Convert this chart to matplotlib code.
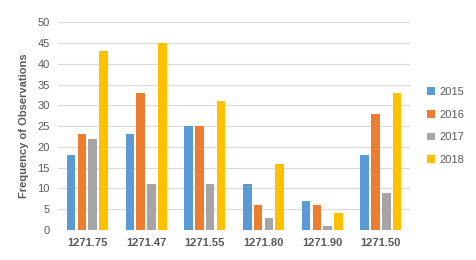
import numpy as np
import matplotlib.pyplot as plt

# data
categories = ["1271.75", "1271.47", "1271.55", "1271.80", "1271.90", "1271.50"]
years = ["2015", "2016", "2017", "2018"]
v2015 = [18, 23, 25, 11, 7, 18]
v2016 = [23, 33, 25, 6, 6, 28]
v2017 = [22, 11, 11, 3, 1, 9]
v2018 = [43, 45, 31, 16, 4, 33]
series = [v2015, v2016, v2017, v2018]
colors = ["#5B9BD5", "#ED7D31", "#A5A5A5", "#FFC000"]

plt.rcParams['font.family'] = ['Liberation Sans', 'DejaVu Sans']
txt = "#595959"

fig = plt.figure(figsize=(4.77, 2.60), dpi=100)
ax = fig.add_axes([0.1216, 0.1154, 0.7384, 0.7992])

x = np.arange(len(categories))
step = 0.184
width = 0.145
for i, (vals, c, yr) in enumerate(zip(series, colors, years)):
    ax.bar(x + (i - 1.5) * step, vals, width, color=c, label=yr, zorder=3)

ax.set_xlim(-0.5, len(categories) - 0.5)
ax.set_ylim(0, 50)
ax.set_yticks(range(0, 51, 5))
ax.set_xticks(x)
ax.set_xticklabels(categories, fontweight='bold', fontsize=8, color=txt)
ax.tick_params(axis='y', labelsize=8, labelcolor=txt, length=0, pad=6)
ax.tick_params(axis='x', length=0, pad=6)
ax.grid(axis='y', color="#D9D9D9", linewidth=0.8, zorder=0)
for s in ax.spines.values():
    s.set_visible(False)
ax.axhline(0, color="#D9D9D9", linewidth=0.8, zorder=1)

ax.set_ylabel("Frequency of Observations", fontsize=8, fontweight='bold', color=txt, labelpad=6)

leg = ax.legend(loc='center left', bbox_to_anchor=(1.02, 0.5), frameon=False,
                fontsize=8, handlelength=0.7, handleheight=0.7, handletextpad=0.4,
                labelspacing=1.15)
for t in leg.get_texts():
    t.set_color(txt)

fig.savefig("out.png", dpi=100)
